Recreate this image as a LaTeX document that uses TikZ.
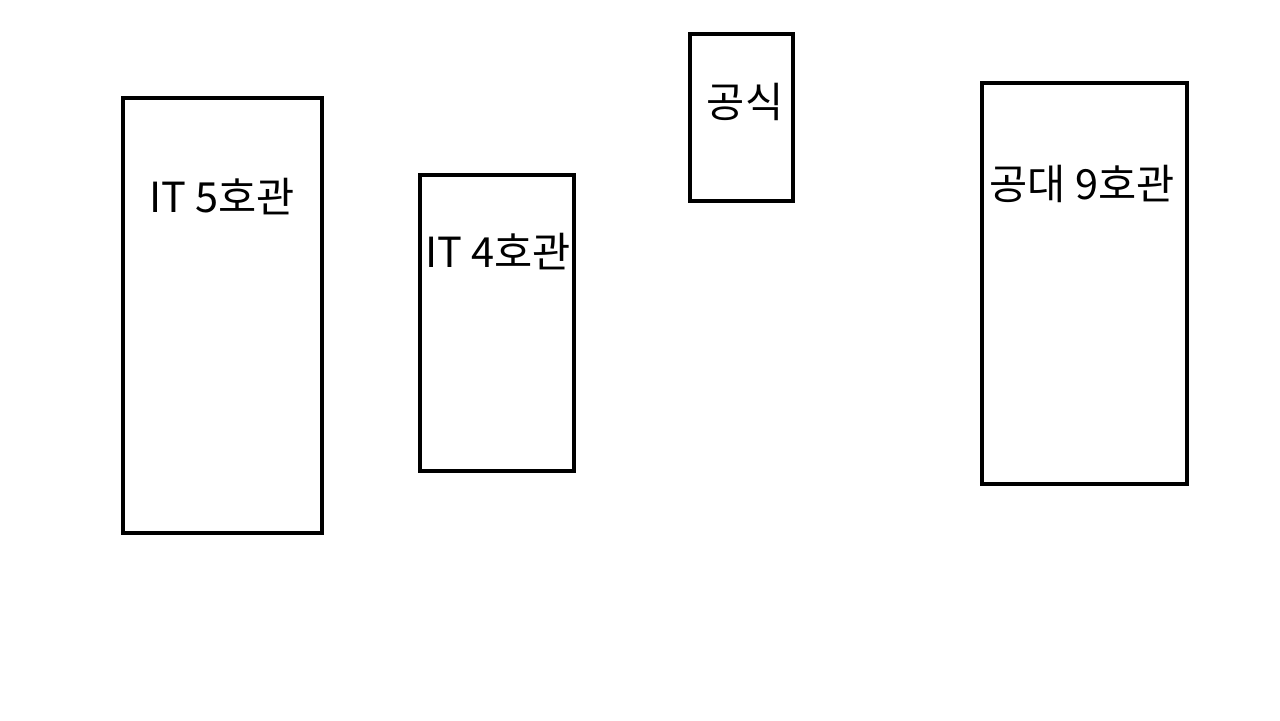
\documentclass[tikz,border=0pt]{standalone}
\usepackage{fontspec}
\setmainfont{Noto Sans CJK KR}
\usetikzlibrary{calc}
\tikzset{
  bldg/.style={draw=black, line width=1.3pt},
  bname/.style={inner sep=0pt, font=\fontsize{11.8pt}{13pt}\selectfont}
}

\begin{document}
\begin{tikzpicture}[x=0.01cm, y=-0.01cm]
  \useasboundingbox (0, 0) rectangle (1280, 720);

  % IT 5호관
  \draw[bldg] (123,  98) rectangle (322, 533);
  \node[bname] (it5) at (222, 197) {IT 5호관};

  % IT 4호관
  \draw[bldg] (420, 175) rectangle (574, 471);
  \node[bname] (it4) at (498, 252) {IT 4호관};

  % 공식
  \draw[bldg] (690,  34) rectangle (793, 201);
  \node[bname] (gs)  at (745, 102) {공식};

  % 공대 9호관
  \draw[bldg] (982,  83) rectangle (1187, 484);
  \node[bname] (e9)  at (1082, 184) {공대 9호관};
\end{tikzpicture}
\end{document}
